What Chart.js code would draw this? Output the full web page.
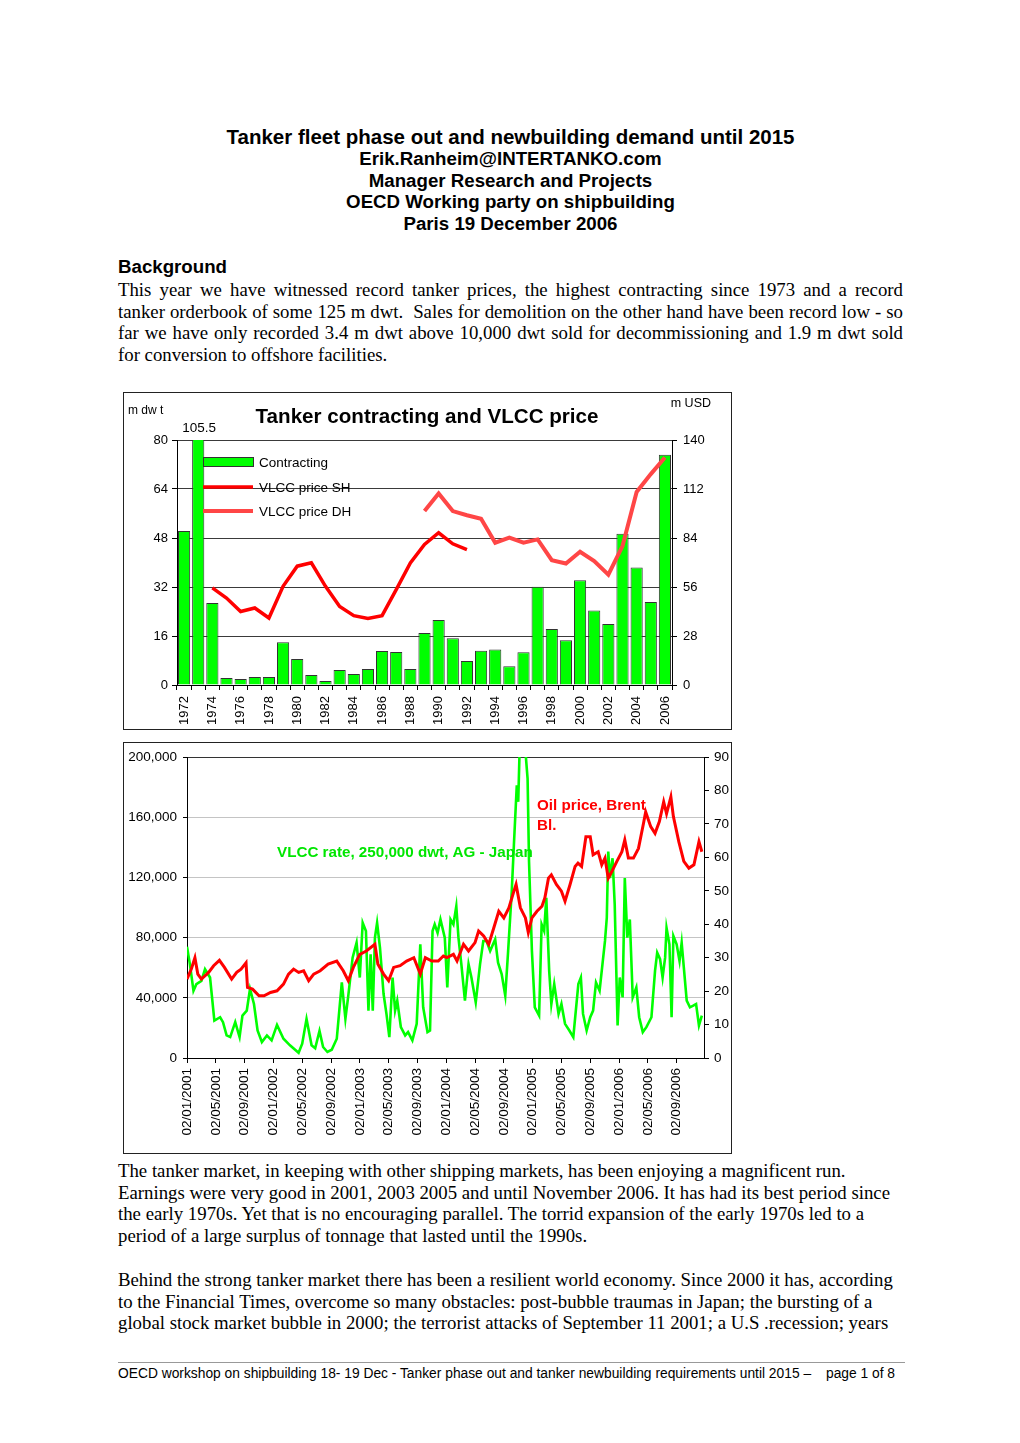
<!DOCTYPE html>
<html><head><meta charset="utf-8">
<script src="https://cdn.jsdelivr.net/npm/chart.js@4.4.1/dist/chart.umd.min.js"></script>
<style>
html,body{margin:0;padding:0;background:#fff;}
body{width:1020px;height:1443px;position:relative;overflow:hidden;font-family:"Liberation Sans",Arial,sans-serif;color:#000;}
.c{position:absolute;left:118px;width:785px;text-align:center;font-weight:bold;white-space:nowrap;}
.t{position:absolute;left:118px;width:785px;font-family:"Liberation Serif","Times New Roman",serif;font-size:18.8px;line-height:21.6px;white-space:nowrap;}
.j div{text-align:justify;text-align-last:justify;white-space:normal;}
.j div.last{text-align-last:left;}
.frame{position:absolute;border:1px solid #222;box-sizing:border-box;}
canvas{position:absolute;}
</style></head><body>
<div class="c" style="top:125px;font-size:20.5px;line-height:24px;">Tanker fleet phase out and newbuilding demand until 2015</div>
<div class="c" style="top:148px;font-size:18.7px;line-height:21.65px;">Erik.Ranheim@INTERTANKO.com<br>Manager Research and Projects<br>OECD Working party on shipbuilding<br>Paris 19 December 2006</div>
<div class="c" style="top:256px;font-size:18.7px;line-height:22px;text-align:left;">Background</div>
<div class="t j" style="top:279px;">
<div>This year we have witnessed record tanker prices, the highest contracting since 1973 and a record</div>
<div>tanker orderbook of some 125 m dwt.&nbsp; Sales for demolition on the other hand have been record low - so</div>
<div>far we have only recorded 3.4 m dwt above 10,000 dwt sold for decommissioning and 1.9 m dwt sold</div>
<div class="last">for conversion to offshore facilities.</div>
</div>

<div class="frame" style="left:123px;top:392px;width:609px;height:338px;"></div>
<canvas id="c1" width="606" height="335" style="left:124px;top:393px;"></canvas>
<div class="frame" style="left:123px;top:742px;width:609px;height:412px;"></div>
<canvas id="c2" width="606" height="409" style="left:124px;top:743px;"></canvas>

<div class="t" style="top:1160px;">The tanker market, in keeping with other shipping markets, has been enjoying a magnificent run.<br>Earnings were very good in 2001, 2003 2005 and until November 2006. It has had its best period since<br>the early 1970s. Yet that is no encouraging parallel. The torrid expansion of the early 1970s led to a<br>period of a large surplus of tonnage that lasted until the 1990s.</div>
<div class="t" style="top:1269px;">Behind the strong tanker market there has been a resilient world economy. Since 2000 it has, according<br>to the Financial Times, overcome so many obstacles: post-bubble traumas in Japan; the bursting of a<br>global stock market bubble in 2000; the terrorist attacks of September 11 2001; a U.S .recession; years</div>

<div style="position:absolute;left:118px;top:1362px;width:787px;height:1px;background:#999;"></div>
<div style="position:absolute;left:118px;top:1366px;font-size:13.8px;line-height:16px;white-space:nowrap;">OECD workshop on shipbuilding 18- 19 Dec - Tanker phase out and tanker newbuilding requirements until 2015 –</div>
<div style="position:absolute;right:125px;top:1366px;font-size:13.8px;line-height:16px;white-space:nowrap;">page 1 of 8</div>

<script>
// ---------- Chart 1 data ----------
const years = ['1972','1973','1974','1975','1976','1977','1978','1979','1980','1981','1982','1983','1984','1985','1986','1987','1988','1989','1990','1991','1992','1993','1994','1995','1996','1997','1998','1999','2000','2001','2002','2003','2004','2005','2006'];
const contracting = [50.3,105.5,26.8,2.3,2.0,2.6,2.6,14.0,8.5,3.3,1.3,4.9,3.6,5.2,11.1,10.8,5.2,17.0,21.2,15.3,7.8,11.2,11.6,6.1,10.7,32.1,18.3,14.6,34.2,24.3,19.9,49.4,38.4,27.1,75.2];
const vlccPriceSH = [null,null,55.5,49.7,42,44,38.3,56.4,67.9,69.8,56.4,44.9,39.6,38,39.6,54.5,69.8,80.3,87,80.7,77.4,null,null,null,null,null,null,null,null,null,null,null,null,null,null];
const vlccPriceDH = [null,null,null,null,null,null,null,null,null,null,null,null,null,null,null,null,null,99.4,109.4,99.4,97,95,81.3,84.2,81.3,83.2,71.3,69.4,76.1,70.8,63.1,79.4,110.3,120.5,130];
const chart1Title = 'Tanker contracting and VLCC price';
const chart1LeftUnit = 'm dw t';
const chart1RightUnit = 'm USD';
const seriesNames1 = ['Contracting','VLCC price SH','VLCC price DH'];
const topLabel = '105.5';

// ---------- Chart 2 data (x = months since 02/01/2001) ----------
const dateTickLabels = ['02/01/2001','02/05/2001','02/09/2001','02/01/2002','02/05/2002','02/09/2002','02/01/2003','02/05/2003','02/09/2003','02/01/2004','02/05/2004','02/09/2004','02/01/2005','02/05/2005','02/09/2005','02/01/2006','02/05/2006','02/09/2006'];
const rateMonths = [0,0.4,0.9,1.3,2.0,2.5,3.2,3.8,4.6,5.0,5.5,6.0,6.7,7.3,7.7,8.3,8.75,9.3,9.8,10.4,11.1,11.75,12.5,13.4,14.3,15.5,16.0,16.6,17.3,17.8,18.4,18.9,19.5,20.1,20.8,21.5,22.0,22.4,23.0,23.55,24.0,24.4,24.85,25.2,25.5,25.8,26.1,26.4,26.8,27.3,27.7,28.1,28.55,28.9,29.2,29.7,30.3,30.7,31.3,31.9,32.4,32.8,33.4,33.75,34.1,34.4,34.8,35.2,35.8,36.15,36.6,37.0,37.4,37.7,38.1,38.6,39.1,39.5,40.1,40.7,41.15,41.6,42.1,42.8,43.2,43.7,44.2,44.6,45.1,45.4,45.8,46.0,46.25,46.9,47.3,47.5,47.9,48.3,48.9,49.25,49.6,49.9,50.3,50.6,51.0,51.6,52.0,52.5,53.1,53.65,54.35,54.7,55.0,55.5,56.0,56.4,56.8,57.3,57.7,58.05,58.3,58.5,58.75,59.1,59.4,59.8,60.1,60.5,60.8,61.15,61.5,61.9,62.4,62.8,63.3,63.8,64.5,65.0,65.3,65.7,66.05,66.4,66.6,67.0,67.3,67.55,68.0,68.4,68.7,69.0,69.4,69.85,70.3,70.7,71.1,71.5];
const vlccRate = [74000,62400,44700,49100,51300,59000,53500,24900,27100,23800,15000,13900,23800,13900,28200,31500,45900,35900,18300,10600,15000,11700,22000,12800,8400,3500,9500,26000,8400,6500,18000,7300,4000,5500,12800,50200,26000,41400,66700,76600,53500,89900,84400,31500,69000,31500,80000,89900,73300,42500,29300,13900,53500,31500,38100,20500,15000,17200,11700,22700,75600,33700,17200,18300,84400,88800,83200,92100,80000,46900,92100,88800,100900,80000,62400,38100,62400,53500,37000,62400,77800,77800,71200,78900,63400,55800,41400,71200,110800,141700,181300,170300,215000,210000,185700,130600,71200,33700,28200,88800,84400,106400,57900,35900,49100,29300,35900,22700,18300,13900,49100,53500,29300,18300,27100,31500,50200,44700,62400,77800,93200,137200,119600,132800,102000,21600,53500,40300,119600,80000,92100,40300,46900,27100,17200,20500,27100,57900,70000,65700,53500,66700,86500,75600,27100,81100,75600,64500,76600,60100,38100,33700,34800,35900,21600,28200];
const oilMonths = [0,0.6,1.1,1.5,2.0,3.0,3.7,4.5,5.2,6.2,6.9,7.5,8.2,8.4,9.1,10.0,10.7,11.6,12.5,13.4,14.1,14.8,15.5,16.2,16.9,17.6,18.5,19.6,20.8,21.7,22.4,23.1,24.0,24.9,26.1,26.5,27.3,28.0,28.7,29.6,30.5,31.5,32.4,33.1,34.0,34.9,35.6,36.1,37.0,37.5,38.4,39.1,40.0,40.5,41.2,41.9,42.6,43.3,44.0,44.7,45.4,45.7,46.3,47.0,47.4,47.9,48.6,49.3,49.7,50.2,50.6,51.3,52.0,52.5,53.2,53.9,54.3,54.8,55.4,56.0,56.4,57.1,57.6,58.05,58.5,59.0,59.7,60.4,60.8,61.3,62.0,62.7,63.4,63.7,64.4,65.0,65.6,66.2,66.6,67.2,67.55,68.3,69.0,69.7,70.4,71.1,71.5];
const brentPrice = [23.6,26.6,30.0,25.1,23.6,25.6,27.6,29.2,27.1,23.6,25.6,26.6,28.5,21.1,20.6,18.6,18.6,19.6,20.1,22.1,25.1,26.6,25.6,26.1,23.1,25.1,26.1,28.1,29.0,26.1,23.1,27.1,31.0,32.0,34.0,28.1,25.1,23.1,27.1,27.6,29.0,30.0,25.1,30.0,29.0,29.0,30.5,30.0,31.0,29.0,34.0,32.0,34.5,38.0,36.5,34.0,38.9,43.9,41.9,44.9,49.9,51.9,44.9,41.9,37.5,41.9,43.9,45.4,47.9,53.8,54.8,51.9,49.9,46.9,51.9,57.3,58.3,57.3,66.2,66.2,60.8,61.7,57.8,59.8,53.8,55.8,58.8,61.7,65.2,59.8,59.8,62.7,70.2,73.6,69.2,67.2,70.7,76.6,73.1,78.1,72.2,64.7,58.8,56.8,57.8,64.7,61.7];
const rateLabel = 'VLCC rate, 250,000 dwt, AG - Japan';
const oilLabelLines = ['Oil price, Brent','Bl.'];

// ---------- common ----------
const FONT = '"Liberation Sans", Arial, sans-serif';
Chart.defaults.font.family = FONT;
Chart.defaults.color = '#000';
Chart.defaults.animation = false;

const GREEN = '#00ff00';
const RED = '#ff0000';
const RED_DH = '#ff4646';

// ---------- Chart 1 ----------
const chart1Deco = {
  id: 'chart1Deco',
  afterDraw(chart) {
    const ctx = chart.ctx, a = chart.chartArea;
    ctx.save();
    ctx.fillStyle = '#000';
    ctx.textBaseline = 'middle';
    ctx.font = 'bold 20.6px ' + FONT;
    ctx.textAlign = 'center';
    ctx.fillText(chart1Title, a.left + 250, a.top - 23);
    ctx.font = '12px ' + FONT;
    ctx.textAlign = 'left';
    ctx.fillText(chart1LeftUnit, 4, a.top - 29);
    ctx.font = '12.5px ' + FONT;
    ctx.textAlign = 'right';
    ctx.fillText(chart1RightUnit, a.right + 39, a.top - 36);
    // label for clipped bar
    const meta = chart.getDatasetMeta(0);
    const bar = meta.data[1];
    ctx.font = '13.5px ' + FONT;
    ctx.textAlign = 'center';
    ctx.fillText(topLabel, bar.x + 1, a.top - 12);
    // legend
    const lx = a.left + 26, tx = a.left + 82;
    const rows = [a.top + 22, a.top + 47, a.top + 71];
    ctx.fillStyle = GREEN; ctx.strokeStyle = '#333'; ctx.lineWidth = 1;
    ctx.fillRect(lx, rows[0] - 4.5, 50, 9);
    ctx.strokeRect(lx + 0.5, rows[0] - 4.5, 50, 9);
    ctx.lineCap = 'butt';
    ctx.strokeStyle = RED; ctx.lineWidth = 3.5;
    ctx.beginPath(); ctx.moveTo(lx, rows[1]); ctx.lineTo(lx + 50, rows[1]); ctx.stroke();
    ctx.strokeStyle = RED_DH; ctx.lineWidth = 4;
    ctx.beginPath(); ctx.moveTo(lx, rows[2]); ctx.lineTo(lx + 50, rows[2]); ctx.stroke();
    ctx.fillStyle = '#000';
    ctx.font = '13.5px ' + FONT;
    ctx.textAlign = 'left';
    seriesNames1.forEach((n, i) => ctx.fillText(n, tx, rows[i] + 1));
    ctx.restore();
  }
};

new Chart(document.getElementById('c1'), {
  type: 'bar',
  data: {
    labels: years,
    datasets: [
      { type: 'bar', label: seriesNames1[0], data: contracting, yAxisID: 'y', backgroundColor: GREEN, borderColor: '#333', borderWidth: 1, barPercentage: 0.86, categoryPercentage: 1, order: 3 },
      { type: 'line', label: seriesNames1[1], data: vlccPriceSH, yAxisID: 'y2', borderColor: RED, borderWidth: 3.5, pointRadius: 0, tension: 0, spanGaps: false, order: 2 },
      { type: 'line', label: seriesNames1[2], data: vlccPriceDH, yAxisID: 'y2', borderColor: RED_DH, borderWidth: 4, pointRadius: 0, tension: 0, spanGaps: false, order: 1 }
    ]
  },
  options: {
    responsive: false,
    events: [],
    layout: { padding: { top: 47, left: 0, right: 0, bottom: 0 } },
    plugins: { legend: { display: false }, title: { display: false }, tooltip: { enabled: false } },
    scales: {
      x: {
        type: 'category',
        offset: true,
        grid: { display: true, drawOnChartArea: false, drawTicks: true, tickLength: 5, tickColor: '#000', offset: true },
        border: { display: true, color: '#000', width: 1 },
        ticks: { autoSkip: false, maxRotation: 90, minRotation: 90, padding: 6, font: { size: 13 },
          callback: (v, i) => (i % 2 === 0 ? years[i] : '') },
        afterFit: s => { s.height = 43; }
      },
      y: {
        position: 'left', min: 0, max: 80,
        ticks: { stepSize: 16, padding: 4, font: { size: 13 } },
        grid: { color: '#3a3a3a', lineWidth: 1, tickLength: 5, tickColor: '#000' },
        border: { display: true, color: '#000', width: 1 },
        afterFit: s => { s.width = 53; }
      },
      y2: {
        position: 'right', min: 0, max: 140,
        ticks: { stepSize: 28, padding: 6, font: { size: 13 } },
        grid: { drawOnChartArea: false, tickLength: 5, tickColor: '#000' },
        border: { display: true, color: '#000', width: 1 },
        afterFit: s => { s.width = 58; }
      }
    }
  },
  plugins: [chart1Deco]
});

// ---------- Chart 2 ----------
const chart2Deco = {
  id: 'chart2Deco',
  afterDraw(chart) {
    const ctx = chart.ctx, a = chart.chartArea;
    ctx.save();
    ctx.textBaseline = 'middle';
    ctx.textAlign = 'left';
    ctx.font = 'bold 15.2px ' + FONT;
    ctx.fillStyle = '#00e600';
    ctx.fillText(rateLabel, a.left + 90, a.top + 96);
    ctx.fillStyle = RED;
    ctx.fillText(oilLabelLines[0], a.left + 350, a.top + 49);
    ctx.fillText(oilLabelLines[1], a.left + 350, a.top + 69);
    ctx.restore();
  }
};

new Chart(document.getElementById('c2'), {
  type: 'line',
  data: {
    datasets: [
      { label: 'Oil price, Brent Bl.', data: oilMonths.map((m, i) => ({ x: m, y: brentPrice[i] })), yAxisID: 'y2', borderColor: RED, borderWidth: 3, pointRadius: 0, tension: 0, clip: 0 },
      { label: rateLabel, data: rateMonths.map((m, i) => ({ x: m, y: vlccRate[i] })), yAxisID: 'y', borderColor: GREEN, borderWidth: 2.6, pointRadius: 0, tension: 0, clip: 0 }
    ]
  },
  options: {
    responsive: false,
    events: [],
    layout: { padding: { top: 11, left: 0, right: 0, bottom: 0 } },
    plugins: { legend: { display: false }, title: { display: false }, tooltip: { enabled: false } },
    scales: {
      x: {
        type: 'linear', min: 0, max: 71.8,
        afterBuildTicks: s => { s.ticks = dateTickLabels.map((_, i) => ({ value: i * 4 })); },
        ticks: { autoSkip: false, maxRotation: 90, minRotation: 90, padding: 5, font: { size: 13.5 },
          callback: v => dateTickLabels[Math.round(v / 4)] ?? '' },
        grid: { drawOnChartArea: false, drawTicks: true, tickLength: 5, tickColor: '#000' },
        border: { display: true, color: '#000', width: 1 },
        afterFit: s => { s.height = 94; }
      },
      y: {
        position: 'left', min: 0, max: 200000,
        ticks: { stepSize: 40000, padding: 6, font: { size: 13.5 }, callback: v => v.toLocaleString('en-US') },
        grid: { color: c => (c.tick && c.tick.value === 200000 ? '#333' : '#c4c4c4'), lineWidth: 1, tickLength: 4, tickColor: '#000' },
        border: { display: true, color: '#000', width: 1 },
        afterFit: s => { s.width = 63; }
      },
      y2: {
        position: 'right', min: 0, max: 90,
        ticks: { stepSize: 10, padding: 5, font: { size: 13.5 } },
        grid: { drawOnChartArea: false, tickLength: 5, tickColor: '#000' },
        border: { display: true, color: '#000', width: 1 },
        afterFit: s => { s.width = 26; }
      }
    }
  },
  plugins: [chart2Deco]
});
</script>
</body></html>
